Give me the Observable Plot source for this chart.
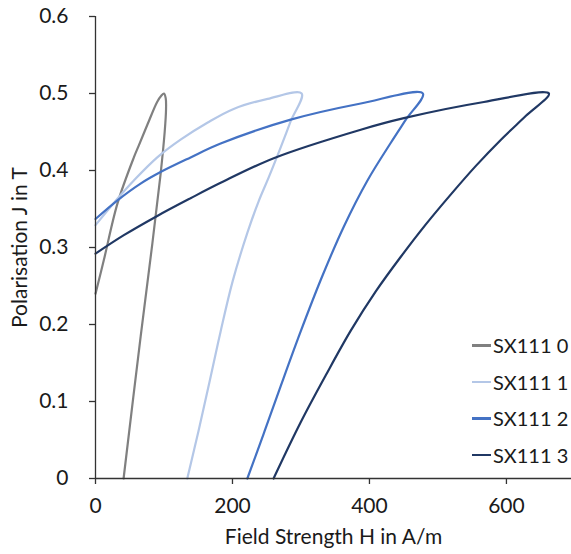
<!DOCTYPE html>
<html>
<head>
<meta charset="utf-8">
<script src="https://cdn.jsdelivr.net/npm/d3@7"></script>
<script src="https://cdn.jsdelivr.net/npm/@observablehq/plot@0.6"></script>
<style>
  html, body { margin: 0; padding: 0; background: white; }
  #wrap { position: relative; width: 571px; height: 554px; overflow: hidden; font-family: Lato, sans-serif; }
  #legend { position: absolute; left: 472px; top: 327px; font-size: 20px; color: #1a1a1a; white-space: nowrap; }
  #legend .row { display: flex; align-items: center; height: 36.5px; }
  #legend .sw { width: 19px; height: 2.5px; margin-right: 2px; flex: none; }
</style>
</head>
<body>
<div id="wrap"><div id="legend"></div></div>
<script>
// Series names and colours
const seriesNames = ["SX111 0", "SX111 1", "SX111 2", "SX111 3"];
const seriesColors = ["#808080", "#b4c7e7", "#4472c4", "#203864"];

// SX111 0 : field strength H (A/m) and polarisation J (T), loop traced from coercive point
const h0 = [41, 66, 83, 95, 101, 103, 102.5, 100, 96, 90, 76, 63, 56, 32, 12, 0];
const j0 = [0, 0.185, 0.305, 0.395, 0.45, 0.48, 0.494, 0.5, 0.497, 0.489, 0.46, 0.432, 0.417, 0.357, 0.283, 0.24];

// SX111 1
const h1 = [134, 150.5, 166.6, 182.7, 200.2, 221.7, 238.2, 252.9, 270.4, 285, 301, 251.4, 201.7, 163.3, 124.2, 90.2, 56, 31.7, 0];
const j1 = [0, 0.062, 0.126, 0.191, 0.256, 0.319, 0.36, 0.391, 0.43, 0.464, 0.5, 0.493, 0.48, 0.462, 0.44, 0.417, 0.387, 0.363, 0.329];

// SX111 2
const h2 = [221.7, 245.5, 270.4, 299.6, 330.3, 362.5, 397.1, 431.2, 453.1, 478, 387.3, 285, 182.7, 138.8, 95, 65.8, 31.7, 0];
const j2 = [0, 0.058, 0.12, 0.191, 0.261, 0.327, 0.387, 0.436, 0.466, 0.5, 0.487, 0.466, 0.435, 0.417, 0.398, 0.383, 0.361, 0.337];

// SX111 3
const h3 = [260, 299.6, 336.2, 372.7, 409.2, 445.8, 482.3, 518.9, 555.4, 592, 628.5, 662, 567.1, 450.2, 387.3, 260.2, 182.7, 138.8, 90.2, 41.4, 0];
const j3 = [0, 0.073, 0.134, 0.192, 0.243, 0.288, 0.33, 0.369, 0.406, 0.44, 0.471, 0.5, 0.489, 0.468, 0.453, 0.416, 0.384, 0.364, 0.341, 0.316, 0.292];

// Axis ticks
const xTicks = [0, 200, 400, 600];
const yTicks = [0, 0.1, 0.2, 0.3, 0.4, 0.5, 0.6];

const hs = [h0, h1, h2, h3];
const js = [j0, j1, j2, j3];
const data = [];
seriesNames.forEach((name, s) => {
  hs[s].forEach((h, i) => data.push({series: name, H: h, J: js[s][i]}));
});

const chart = Plot.plot({
  width: 571,
  height: 554,
  marginLeft: 95,
  marginRight: 0,
  marginTop: 16,
  marginBottom: 76,
  style: {fontFamily: "Lato, sans-serif", fontSize: "21px", color: "#1a1a1a", background: "white"},
  x: {domain: [0, 695]},
  y: {domain: [0, 0.6]},
  color: {domain: seriesNames, range: seriesColors},
  marks: [
    Plot.line(data, {x: "H", y: "J", z: "series", stroke: "series", strokeWidth: 2.2, curve: "catmull-rom"}),
    Plot.ruleX([0], {stroke: "#333", strokeWidth: 1.3}),
    Plot.ruleY([0], {stroke: "#333", strokeWidth: 1.3}),
    Plot.axisX({ticks: xTicks, tickSize: 6, tickPadding: 14, stroke: "#333", strokeWidth: 1.3,
      label: "Field Strength H in A/m", labelAnchor: "center", labelArrow: "none", labelOffset: 65}),
    Plot.axisY({ticks: yTicks, tickSize: 6, tickPadding: 21, stroke: "#333", strokeWidth: 1.3,
      tickFormat: d => d === 0 ? "0" : d3.format(".1f")(d),
      label: "Polarisation J in T", labelAnchor: "center", labelArrow: "none", labelOffset: 83})
  ]
});
document.getElementById("wrap").prepend(chart);

const legend = document.getElementById("legend");
seriesNames.forEach((name, i) => {
  const row = document.createElement("div");
  row.className = "row";
  const sw = document.createElement("span");
  sw.className = "sw";
  sw.style.background = seriesColors[i];
  const t = document.createElement("span");
  t.textContent = name;
  row.append(sw, t);
  legend.append(row);
});
</script>
</body>
</html>
